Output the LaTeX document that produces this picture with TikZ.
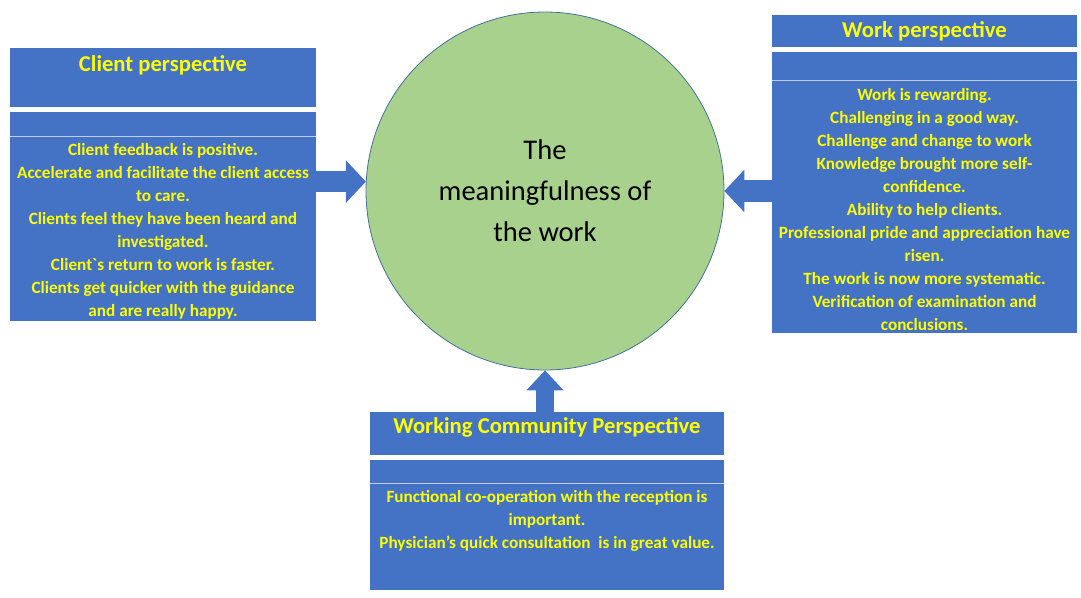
\documentclass[tikz,border=0pt]{standalone}
\usepackage{fontspec}
\setmainfont{Carlito}
\usetikzlibrary{arrows.meta}
\definecolor{boxblue}{RGB}{68,114,196}
\definecolor{rowline}{RGB}{190,206,235}
\definecolor{circgreen}{RGB}{169,209,142}
\definecolor{circedge}{RGB}{65,113,156}
\definecolor{txtyellow}{RGB}{255,255,0}
\begin{document}
\begin{tikzpicture}[x=0.75pt,y=-0.75pt,
  box/.style={rectangle, fill=boxblue, inner sep=0pt},
  head/.style={text=txtyellow, font=\bfseries\fontsize{17}{20}\selectfont},
  body/.style={text=txtyellow, font=\bfseries\fontsize{12.9}{17.25}\selectfont, align=center},
  fatarrow/.style={boxblue, line width=16pt, -{Triangle[length=15pt,width=32pt,line width=0pt]}}]
\useasboundingbox (0,0) rectangle (1081,597);

% centre
\node[circle, fill=circgreen, draw=circedge, line width=0.6pt, minimum size=268.5pt, align=center, font=\fontsize{21.4}{30.75}\selectfont] (meaning) at (545,191) {The\\meaningfulness of\\the work};

% client perspective
\node[box, minimum width=229.5pt, minimum height=44.25pt] (clienttitle) at (163,77.5) {};
\node[head] (clienthead) at (163,65) {Client perspective};
\node[box, minimum width=229.5pt, minimum height=156.75pt] (clientbody) at (163,216.5) {};
\draw[rowline, line width=0.8pt] ([yshift=-18.75pt]clientbody.north west) -- ([yshift=-18.75pt]clientbody.north east);
\node[body] (clientlist) at (163,231) {Client feedback is positive.\\
Accelerate and facilitate the client access\\
to care.\\
Clients feel they have been heard and\\
investigated.\\
Client\textasciigrave s return to work is faster.\\
Clients get quicker with the guidance\\
and are really happy.};

% work perspective
\node[box, minimum width=228.75pt, minimum height=24pt, head] (worktitle) at (924.5,31) {Work perspective};
\node[box, minimum width=228.75pt, minimum height=210.75pt] (workbody) at (924.5,192.5) {};
\draw[rowline, line width=0.8pt] ([yshift=-21.75pt]workbody.north west) -- ([yshift=-21.75pt]workbody.north east);
\node[body] (worklist) at (924.5,210) {Work is rewarding.\\
Challenging in a good way.\\
Challenge and change to work\\
Knowledge brought more self-\\
confidence.\\
Ability to help clients.\\
Professional pride and appreciation have\\
risen.\\
The work is now more systematic.\\
Verification of examination and\\
conclusions.};

% working community perspective
\node[box, minimum width=265.5pt, minimum height=32.25pt] (commtitle) at (547,433.5) {};
\node[head] (commhead) at (547,427) {Working Community Perspective};
\node[box, minimum width=265.5pt, minimum height=97.5pt] (commbody) at (547,525) {};
\draw[rowline, line width=0.8pt] ([yshift=-18pt]commbody.north west) -- ([yshift=-18pt]commbody.north east);
\node[body] (commlist) at (547,520.5) {Functional co-operation with the reception is\\
important.\\
Physician’s quick consultation\ \ is in great value.};

% arrows
\draw[fatarrow] (clientbody.east |- meaning.177) -- (meaning.177);
\draw[fatarrow] (workbody.west |- meaning.east) -- (meaning.east);
\draw[fatarrow, line width=13pt, -{Triangle[length=15pt,width=28pt,line width=0pt]}] (commtitle.north -| meaning.south) -- (meaning.south);
\end{tikzpicture}
\end{document}
